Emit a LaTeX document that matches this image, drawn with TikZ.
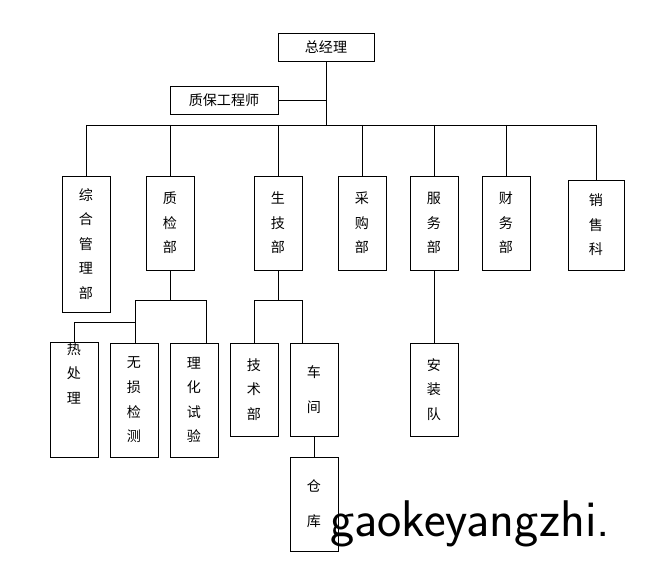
\documentclass[tikz,border=0pt]{standalone}
\usepackage{fontspec}
\newfontfamily\cjk{Noto Sans CJK SC}
\usetikzlibrary{positioning}
\tikzset{
    dept/.style={
        draw, minimum width = 48*0.03cm,
        align = center, inner sep = 0pt,
        font = \cjk\fontsize{12}{21}\selectfont
    },
    head/.style={
        draw, minimum height = 28*0.03cm,
        font = \cjk\fontsize{12}{14}\selectfont
    }
}
\begin{document}
\begin{tikzpicture}[x=0.03cm, y=-0.03cm]
                                \useasboundingbox (0,0) rectangle (656,569);

                                % top
                                \node[head, minimum width = 96*0.03cm] (zjl) at (326,47.5) {总经理};
                                \node[head, minimum width = 108*0.03cm] (zbg) at (224,100) {质保工程师};
                                \coordinate (bus) at (326,125);
                                \coordinate (busl) at (87,125);
                                \coordinate (busr) at (596,125);

                                % departments
                                \node[dept, minimum height = 136*0.03cm] (zh) at (86,244) {综\\合\\管\\理\\部};
                                \node[dept, minimum height = 94*0.03cm] (zj) at (170,223) {质\\检\\部};
                                \node[dept, minimum height = 94*0.03cm] (sj) at (278,223) {生\\技\\部};
                                \node[dept, minimum height = 94*0.03cm] (cg) at (362,223) {采\\购\\部};
                                \node[dept, minimum height = 94*0.03cm] (fw) at (434,223) {服\\务\\部};
                                \node[dept, minimum height = 94*0.03cm] (cw) at (506,223) {财\\务\\部};
                                \node[dept, minimum height = 90*0.03cm, minimum width = 56*0.03cm] (xs) at (596,225) {销\\售\\科};

                                % third row
                                \node[dept, minimum height = 114*0.03cm] (rcl) at (74,400) {热\\处\\理\\[25pt]};
                                \node[dept, minimum height = 114*0.03cm] (wsjc) at (134,400) {无\\损\\检\\测};
                                \node[dept, minimum height = 114*0.03cm] (lhsy) at (194,400) {理\\化\\试\\验};
                                \node[dept, minimum height = 93*0.03cm] (js) at (254,389.5) {技\\术\\部};
                                \node[dept, minimum height = 93*0.03cm, font = \cjk\fontsize{12}{30}\selectfont] (cj) at (314,389.5) {车\\间};
                                \node[dept, minimum height = 94*0.03cm, font = \cjk\fontsize{12}{30}\selectfont] (ck) at (314,504) {仓\\库};
                                \node[dept, minimum height = 93*0.03cm] (azd) at (434,389.5) {安\\装\\队};

                                \coordinate (zjbus) at (170,300);
                                \coordinate (zjend) at (206,300);
                                \coordinate (rbus) at (135,322);
                                \coordinate (sjbus) at (278,300);
                                \coordinate (sjend) at (302,300);

                                % connectors
                                \draw (zjl.south) -- (bus);
                                \draw (zbg.east) -- (zbg.east -| zjl.south);
                                \draw (busl) -- (busr);
                                \foreach \d in {zh, zj, sj, cg, fw, cw, xs}
                                    \draw (\d.north |- bus) -- (\d.north);
                                \draw (zj.south) -- (zjbus);
                                \draw (wsjc.north -| rbus) |- (zjend) -- (zjend |- lhsy.north);
                                \draw (rbus) -| (rcl.north);
                                \draw (sj.south) -- (sjbus);
                                \draw (js.north) |- (sjend) -- (sjend |- cj.north);
                                \draw (cj.south) -- (ck.north);
                                \draw (fw.south) -- (azd.north);

                                % watermark
                                \node[anchor = west, inner sep = 0pt, font = \fontsize{44}{44}\selectfont\sffamily] (wm) at (330,524) {gaokeyangzhi.};

                            \end{tikzpicture}
\end{document}
